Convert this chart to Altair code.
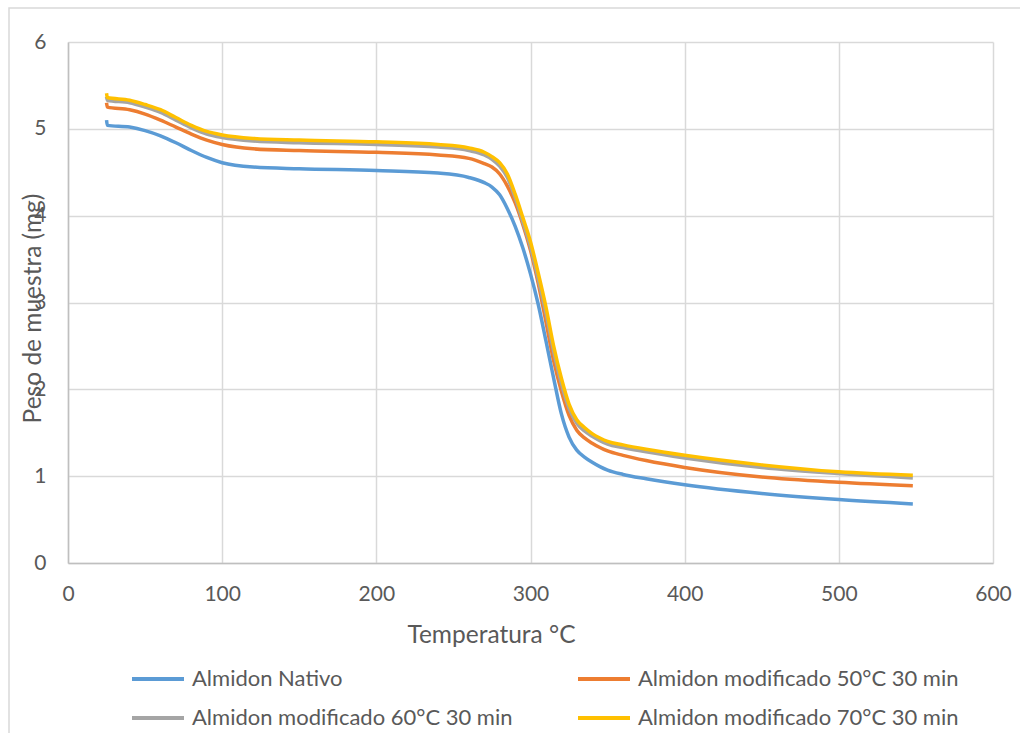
import altair as alt
import pandas as pd

temps = [25, 25.5, 40, 50, 60, 70, 80, 90, 100, 120, 150, 200, 240, 260, 270, 275,
         280, 285, 290, 295, 300, 305, 310, 315, 320, 325, 330, 335, 340, 345, 350,
         360, 375, 400, 450, 500, 548]

nativo = [5.10, 5.04, 5.02, 4.98, 4.92, 4.84, 4.75, 4.67, 4.61, 4.56, 4.54, 4.52, 4.49, 4.44,
          4.38, 4.33, 4.24, 4.08, 3.88, 3.63, 3.33, 2.98, 2.56, 2.13, 1.72, 1.45, 1.30,
          1.22, 1.16, 1.11, 1.07, 1.02, 0.97, 0.90, 0.80, 0.73, 0.68]

mod50 = [5.30, 5.25, 5.22, 5.17, 5.10, 5.02, 4.94, 4.87, 4.82, 4.77, 4.75, 4.73, 4.70, 4.66,
         4.60, 4.56, 4.48, 4.34, 4.15, 3.90, 3.60, 3.22, 2.78, 2.33, 1.98, 1.70, 1.53,
         1.44, 1.38, 1.33, 1.29, 1.24, 1.18, 1.10, 0.99, 0.93, 0.89]

mod60 = [5.37, 5.33, 5.30, 5.25, 5.19, 5.10, 5.01, 4.94, 4.90, 4.86, 4.84, 4.82, 4.79, 4.75,
         4.70, 4.65, 4.57, 4.44, 4.21, 3.93, 3.64, 3.27, 2.88, 2.44, 2.07, 1.78, 1.61,
         1.52, 1.46, 1.41, 1.37, 1.33, 1.28, 1.21, 1.10, 1.03, 0.98]

mod70 = [5.41, 5.36, 5.33, 5.28, 5.22, 5.13, 5.04, 4.97, 4.93, 4.89, 4.87, 4.85, 4.82, 4.78,
         4.73, 4.68, 4.61, 4.48, 4.25, 3.98, 3.70, 3.34, 2.95, 2.50, 2.13, 1.83, 1.65,
         1.56, 1.49, 1.44, 1.40, 1.36, 1.31, 1.24, 1.13, 1.05, 1.01]

series_names = ["Almidon Nativo", "Almidon modificado 50°C 30 min",
                "Almidon modificado 60°C 30 min", "Almidon modificado 70°C 30 min"]
series_values = [nativo, mod50, mod60, mod70]
colors = ["#5B9BD5", "#ED7D31", "#A5A5A5", "#FFC000"]

rows = []
for i, (name, vals) in enumerate(zip(series_names, series_values)):
    for t, v in zip(temps, vals):
        rows.append({"Temperatura": t, "Peso": v, "Serie": name, "orden": i})
df = pd.DataFrame(rows)

FONT = "Lato"
GRAY_TXT = "#595959"

lines = alt.Chart(df).mark_line(strokeWidth=3.5, interpolate="monotone").encode(
    x=alt.X("Temperatura:Q",
            scale=alt.Scale(domain=[0, 600], nice=False),
            axis=alt.Axis(values=[0, 100, 200, 300, 400, 500, 600], title="Temperatura °C",
                          titleX=423, titleY=79, titleAlign="center", titleBaseline="alphabetic",
                          labelPadding=20, labelFlush=False)),
    y=alt.Y("Peso:Q",
            scale=alt.Scale(domain=[0, 6], nice=False),
            axis=alt.Axis(values=[0, 1, 2, 3, 4, 5, 6], title="Peso de muestra (mg)",
                          titleX=-28, titleY=266, titleAngle=270, titleAlign="center",
                          titleBaseline="alphabetic", labelPadding=22, labelFlush=False)),
    color=alt.Color("Serie:N",
                    scale=alt.Scale(domain=series_names, range=colors),
                    sort=series_names,
                    legend=alt.Legend(title=None, orient="none", legendX=62, legendY=609,
                                      direction="horizontal",
                                      columns=2, columnPadding=57, rowPadding=0,
                                      symbolType="M-1,0H1", symbolSize=2704,
                                      symbolStrokeWidth=4, labelOffset=6,
                                      labelFont=FONT, labelFontSize=22, labelColor=GRAY_TXT,
                                      labelLimit=450)),
    order=alt.Order("orden:Q"),
)

border_df = pd.DataFrame({"k": [0]})
border = alt.Chart(border_df).mark_rect(fill=None, stroke="#d9d9d9", strokeWidth=1.5).encode(
    x=alt.value(-59), x2=alt.value(1000), y=alt.value(-34), y2=alt.value(800)
)

chart = alt.layer(border, lines).properties(
    width=925, height=521,
    padding={"left": 68, "top": 42, "right": 27, "bottom": 170},
    autosize=alt.AutoSizeParams(type="none"),
    background="white",
).configure_view(stroke=None).configure_axis(
    labelFont=FONT, labelFontSize=21, labelColor=GRAY_TXT,
    titleFont=FONT, titleFontSize=24.5, titleColor=GRAY_TXT, titleFontWeight="normal",
    gridColor="#d9d9d9", gridWidth=1.5, domainColor="#bfbfbf", domainWidth=1.5,
    ticks=False,
)

chart.save("out.html", embed_options={"renderer": "svg", "actions": False})
